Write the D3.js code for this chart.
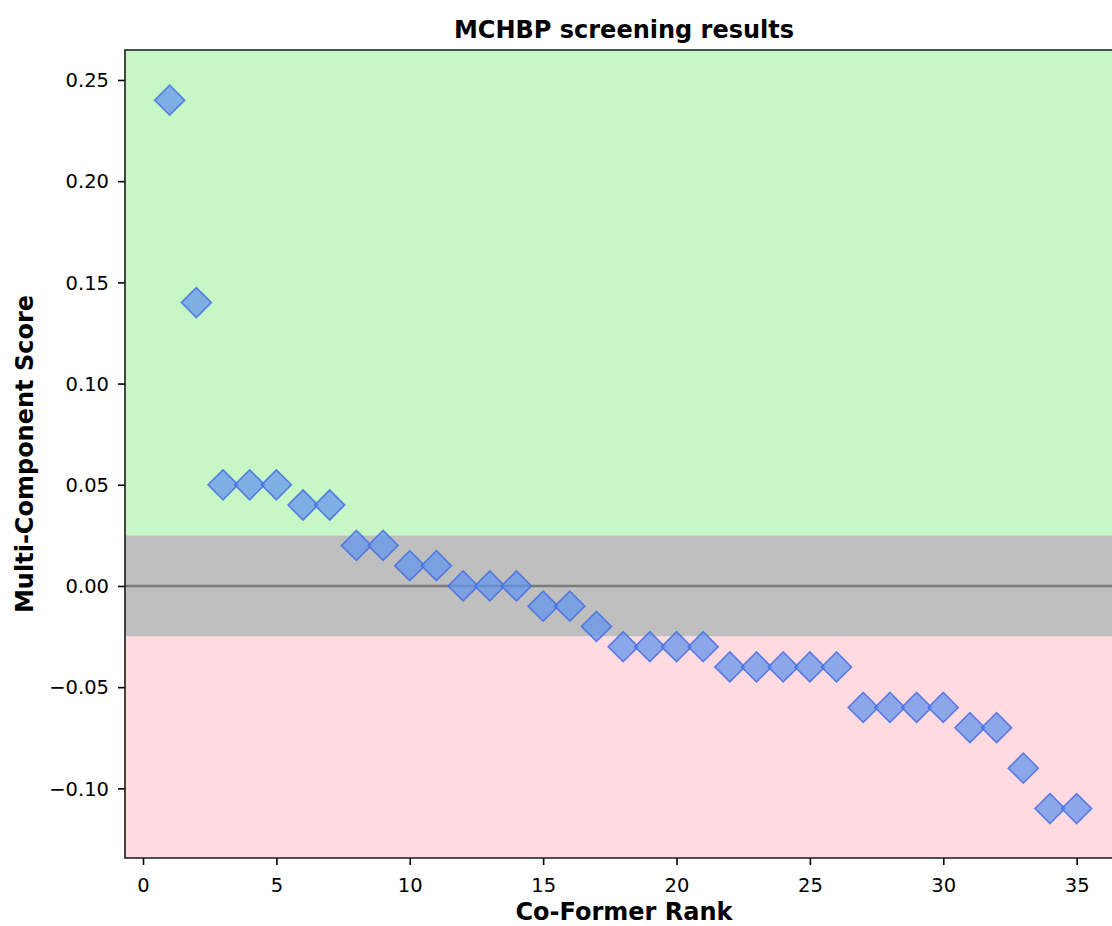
<!DOCTYPE html>
<html>
<head>
<meta charset="utf-8">
<script src="https://cdn.jsdelivr.net/npm/d3@7"></script>
<style>
  html, body { margin: 0; padding: 0; background: #fff; overflow: hidden; }
  text { font-family: "DejaVu Sans", sans-serif; fill: #000; }
</style>
</head>
<body>
<svg id="chart" width="1112" height="926"></svg>
<script>
// Co-former ranks and their multi-component scores
const ranks = [1,2,3,4,5,6,7,8,9,10,11,12,13,14,15,16,17,18,19,20,21,22,23,24,25,26,27,28,29,30,31,32,33,34,35];
const scores = [0.24,0.14,0.05,0.05,0.05,0.04,0.04,0.02,0.02,0.01,0.01,0.00,0.00,0.00,-0.01,-0.01,-0.02,-0.03,-0.03,-0.03,-0.03,-0.04,-0.04,-0.04,-0.04,-0.04,-0.06,-0.06,-0.06,-0.06,-0.07,-0.07,-0.09,-0.11,-0.11];
const xTicks = [0,5,10,15,20,25,30,35];
const yTicks = [-0.10,-0.05,0.00,0.05,0.10,0.15,0.20,0.25];
// neutral band limits
const bandLow = -0.025, bandHigh = 0.025;

const svg = d3.select("#chart");
const m = { left: 125, top: 50, right: 1122, bottom: 858 };

const x = d3.scaleLinear().domain([-0.675, 36.7]).range([m.left, m.right]);
const y = d3.scaleLinear().domain([-0.1344, 0.2648]).range([m.bottom, m.top]);

svg.append("defs").append("clipPath").attr("id", "plotClip")
  .append("rect").attr("x", m.left).attr("y", m.top).attr("width", m.right - m.left).attr("height", m.bottom - m.top);

const plot = svg.append("g").attr("clip-path", "url(#plotClip)");

// background zones
const [y0, y1] = y.domain();
plot.append("rect").attr("x", m.left).attr("width", m.right - m.left)
  .attr("y", y(y1)).attr("height", y(bandHigh) - y(y1)).attr("fill", "#c7f6c7");
plot.append("rect").attr("x", m.left).attr("width", m.right - m.left)
  .attr("y", y(bandHigh)).attr("height", y(bandLow) - y(bandHigh)).attr("fill", "#bfbfbf");
plot.append("rect").attr("x", m.left).attr("width", m.right - m.left)
  .attr("y", y(bandLow)).attr("height", y(y0) - y(bandLow)).attr("fill", "#ffdae0");

// zero reference line
plot.append("line").attr("x1", m.left).attr("x2", m.right)
  .attr("y1", y(0)).attr("y2", y(0))
  .attr("stroke", "#7a7a7a").attr("stroke-width", 2.6);

// diamond markers
const diamond = d3.symbol().type(d3.symbolSquare).size(2 * 15 * 15);
plot.selectAll("path.pt").data(ranks.map((r, i) => ({r, s: scores[i]})))
  .join("path").attr("class", "pt")
  .attr("d", diamond)
  .attr("transform", d => `translate(${x(d.r)},${y(d.s)}) rotate(45)`)
  .attr("fill", "#6495ED").attr("fill-opacity", 0.75)
  .attr("stroke", "#4169E1").attr("stroke-opacity", 0.8).attr("stroke-width", 1.6);

// axes
const fmtY = d => (d < 0 ? "\u2212" : "") + Math.abs(d).toFixed(2);
const xAxis = svg.append("g").attr("transform", `translate(0,${m.bottom})`)
  .call(d3.axisBottom(x).tickValues(xTicks).tickSize(7).tickPadding(7).tickFormat(d3.format("d")));
const yAxis = svg.append("g").attr("transform", `translate(${m.left},0)`)
  .call(d3.axisLeft(y).tickValues(yTicks).tickSize(7).tickPadding(9).tickFormat(fmtY));
[xAxis, yAxis].forEach(a => {
  a.select(".domain").remove();
  a.selectAll("line").attr("stroke", "#000").attr("stroke-width", 1.6);
  a.selectAll("text").attr("font-size", 19.5).attr("font-family", "DejaVu Sans");
});
xAxis.selectAll("text").attr("y", 34).attr("dy", 0);
yAxis.selectAll("text").attr("dy", "0.34em");

// spines
svg.append("path")
  .attr("d", `M${m.right},${m.top}H${m.left}V${m.bottom}H${m.right}`)
  .attr("fill", "none").attr("stroke", "#1a1a1a").attr("stroke-width", 1.6);

// titles
svg.append("text").attr("x", 624).attr("y", 38)
  .attr("text-anchor", "middle").attr("font-size", 24).attr("font-weight", "bold")
  .text("MCHBP screening results");
svg.append("text").attr("x", 624).attr("y", 920)
  .attr("text-anchor", "middle").attr("font-size", 24).attr("font-weight", "bold")
  .text("Co-Former Rank");
svg.append("text").attr("transform", `translate(33,${(m.top + m.bottom) / 2}) rotate(-90)`)
  .attr("text-anchor", "middle").attr("font-size", 24).attr("font-weight", "bold")
  .text("Multi-Component Score");
</script>
</body>
</html>
